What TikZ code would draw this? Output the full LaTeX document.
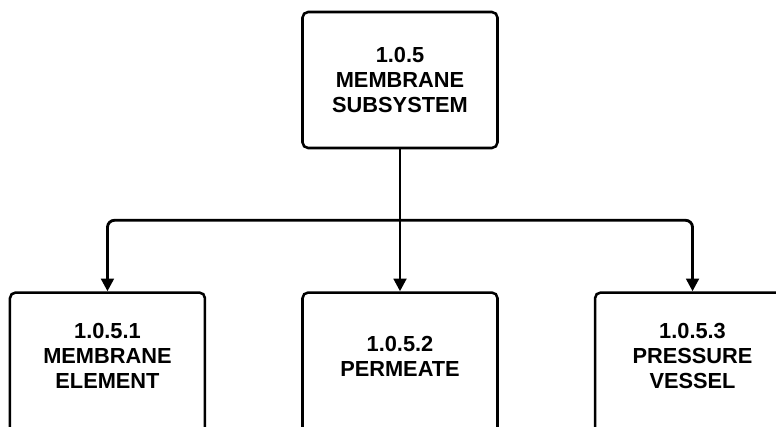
\documentclass[tikz,border=0pt]{standalone}
\usepackage{fontspec}
\setmainfont{Liberation Sans}
\usetikzlibrary{positioning, arrows.meta, calc}

\begin{document}
\begin{tikzpicture}[
		node distance=3.55cm and 2.375cm,
		box/.style={rectangle, draw, line width=1.8pt, rounded corners=4pt,
			minimum width=4.875cm},
		boxfont/.style={font=\fontsize{15.5}{17.8}\selectfont\bfseries, align=center},
		parent/.style={box, boxfont, minimum height=3.4cm},
		leaf/.style={box, minimum height=4.5cm},
		leaftext/.style={boxfont},
		arrow/.style={-{Triangle[width=9pt,length=9pt]}, line width=2pt, rounded corners=5pt},
		link/.style={line width=2pt},
		]
		\useasboundingbox (0,0) rectangle (19.4,-10.65);
		\clip (0,0) rectangle (19.4,-10.65);
		
		% Subsystem (top)
		\node[parent] (subsys) at (10,-2) {1.0.5\\MEMBRANE\\SUBSYSTEM};
		
		% Components (bottom row, cut off by the page)
		\node[leaf, below=of subsys] (permeate) {};
		\node[leaf, left=of permeate] (element) {};
		\node[leaf, right=of permeate] (vessel) {};
		
		\node[leaftext] at ([yshift=-1.625cm]element.north) {1.0.5.1\\MEMBRANE\\ELEMENT};
		\node[leaftext] at ([yshift=-1.625cm]permeate.north) {1.0.5.2\\PERMEATE};
		\node[leaftext] at ([yshift=-1.625cm]vessel.north) {1.0.5.3\\PRESSURE\\VESSEL};
		
		% Tree connectors
		\coordinate (split) at ([yshift=-1.775cm]subsys.south);
		\draw[link] (subsys.south) -- (split);
		\draw[arrow] (split) -| (element.north);
		\draw[arrow] (split) -- (permeate.north);
		\draw[arrow] (split) -| (vessel.north);
	\end{tikzpicture}
\end{document}
